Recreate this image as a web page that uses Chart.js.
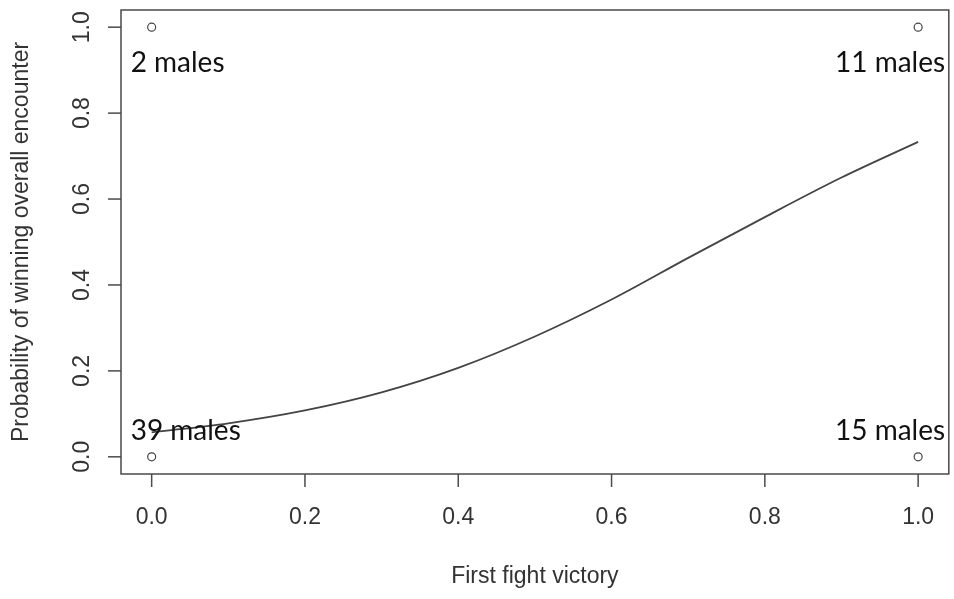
<!DOCTYPE html>
<html>
<head>
<meta charset="utf-8">
<title>First fight victory</title>
<script src="https://cdn.jsdelivr.net/npm/chart.js@4.4.1/dist/chart.umd.min.js"></script>
<style>
  html, body { margin: 0; padding: 0; background: #fff; }
  #wrap { width: 954px; height: 599px; }
</style>
</head>
<body>
<div id="wrap"><canvas id="chart" width="954" height="599"></canvas></div>
<script>
// fitted curve
const curveX = [0.0, 0.1, 0.2, 0.3, 0.4, 0.5, 0.6, 0.7, 0.8, 0.9, 1.0];
const curveY = [0.057, 0.078, 0.108, 0.150, 0.207, 0.280, 0.366, 0.463, 0.558, 0.650, 0.733];

// observed outcomes
const obsX = [0, 0, 1, 1];
const obsY = [1, 0, 1, 0];
const obsLabels = ['2 males', '39 males', '11 males', '15 males'];

const xTicks = [0.0, 0.2, 0.4, 0.6, 0.8, 1.0];
const yTicks = [0.0, 0.2, 0.4, 0.6, 0.8, 1.0];

const xTitle = 'First fight victory';
const yTitle = 'Probability of winning overall encounter';

const axisColor = '#4a4a4a';
const textColor = '#333333';
const tickFont = "23px 'Liberation Sans', Arial, sans-serif";
const titleFont = "23px 'Liberation Sans', Arial, sans-serif";
const noteFont = "28px Lato, 'Open Sans', sans-serif";

// R-style frame, ticks and labels drawn from the chart scales
const rAxes = {
  id: 'rAxes',
  afterDraw(chart) {
    const { ctx, chartArea: a, scales: { x, y } } = chart;
    ctx.save();
    ctx.strokeStyle = axisColor;
    ctx.lineWidth = 1.5;
    ctx.strokeRect(a.left, a.top, a.right - a.left, a.bottom - a.top);

    ctx.fillStyle = textColor;
    ctx.font = tickFont;
    ctx.textAlign = 'center';
    ctx.textBaseline = 'middle';
    xTicks.forEach(v => {
      const px = x.getPixelForValue(v);
      ctx.beginPath();
      ctx.moveTo(px, a.bottom);
      ctx.lineTo(px, a.bottom + 13);
      ctx.stroke();
      ctx.fillText(v.toFixed(1), px, a.bottom + 44);
    });
    yTicks.forEach(v => {
      const py = y.getPixelForValue(v);
      ctx.beginPath();
      ctx.moveTo(a.left, py);
      ctx.lineTo(a.left - 13, py);
      ctx.stroke();
      ctx.save();
      ctx.translate(a.left - 38, py);
      ctx.rotate(-Math.PI / 2);
      ctx.fillText(v.toFixed(1), 0, 0);
      ctx.restore();
    });

    ctx.font = titleFont;
    ctx.fillText(xTitle, (a.left + a.right) / 2, a.bottom + 103);
    ctx.save();
    ctx.translate(22, (a.top + a.bottom) / 2);
    ctx.rotate(-Math.PI / 2);
    ctx.fillText(yTitle, 0, 0);
    ctx.restore();

    // group size notes next to the observed points
    ctx.font = noteFont;
    ctx.fillStyle = '#111';
    ctx.textBaseline = 'alphabetic';
    obsX.forEach((ox, i) => {
      const px = x.getPixelForValue(ox);
      const py = y.getPixelForValue(obsY[i]);
      ctx.textAlign = ox === 0 ? 'left' : 'right';
      const tx = ox === 0 ? px - 21 : px + 27;
      const ty = obsY[i] === 1 ? py + 45 : py - 17;
      ctx.fillText(obsLabels[i], tx, ty);
    });
    ctx.restore();
  }
};

new Chart(document.getElementById('chart'), {
  type: 'scatter',
  data: {
    datasets: [
      {
        type: 'line',
        data: curveX.map((v, i) => ({ x: v, y: curveY[i] })),
        borderColor: '#444',
        borderWidth: 1.8,
        pointRadius: 0,
        fill: false,
        cubicInterpolationMode: 'monotone'
      },
      {
        data: obsX.map((v, i) => ({ x: v, y: obsY[i] })),
        pointRadius: 4,
        pointBorderWidth: 1.2,
        pointBorderColor: '#444',
        pointBackgroundColor: 'rgba(0,0,0,0)'
      }
    ]
  },
  options: {
    responsive: false,
    animation: false,
    layout: { padding: { left: 121, right: 3, top: 10, bottom: 125 } },
    plugins: { legend: { display: false }, tooltip: { enabled: false } },
    scales: {
      x: { type: 'linear', min: -0.04, max: 1.04, display: false },
      y: { type: 'linear', min: -0.04, max: 1.04, display: false }
    }
  },
  plugins: [rAxes]
});
</script>
</body>
</html>
